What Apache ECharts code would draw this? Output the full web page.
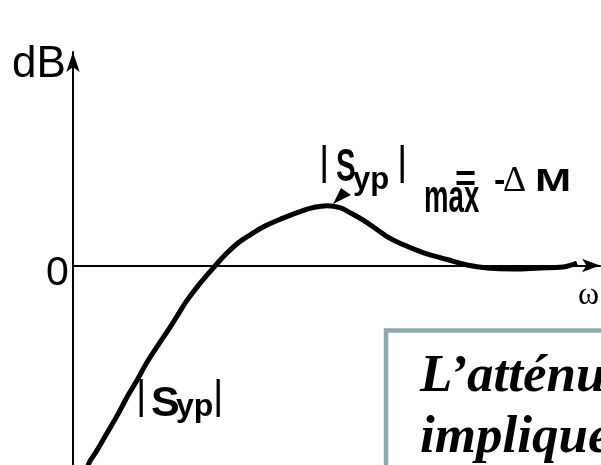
<!DOCTYPE html>
<html>
<head>
<meta charset="utf-8">
<script src="https://cdn.jsdelivr.net/npm/echarts@6/dist/echarts.min.js"></script>
<style>
  html, body { margin: 0; padding: 0; background: #fff; }
  #chart { width: 601px; height: 465px; }
</style>
</head>
<body>
<div id="chart"></div>
<script>
// |S_yp| en dB en fonction de ω
const omega = [2.8, 3.2, 4.6, 6.0, 7.4, 9.0, 10.8, 12.8, 14.8, 17.0, 19.4, 21.4, 22.8, 25.4, 28.4, 30.6, 33.0, 35.4, 38.4, 42.0, 45.4, 48.0, 50.8, 53.4, 55.4, 58.8, 62.8, 66.0, 70.0, 74.8, 78.8, 82.8, 88.0, 93.4, 98.0, 100.8]
const syp = [-20.7, -19.8, -18.7, -17.5, -16.3, -14.9, -13.2, -11.5, -9.7, -8.0, -6.2, -4.6, -3.5, -1.8, -0.05, 1.15, 2.25, 3.05, 3.95, 4.75, 5.4, 5.8, 6.0, 5.8, 5.3, 4.3, 2.9, 2.1, 1.3, 0.6, 0.05, -0.25, -0.35, -0.25, -0.15, 0.25]
const yLabel = 'dB'
const xLabel = 'ω'
const zeroLabel = '0'
const boxLines = ['L’atténuation', 'implique']

const SANS = '"Liberation Sans", Arial, sans-serif'
const SERIF = '"Liberation Serif", "Times New Roman", serif'

function txt(text, x, y, font, extra) {
	return Object.assign({
		type: 'text',
		x, y,
		z: 10,
		style: { text, font, fill: '#000', verticalAlign: 'middle' },
	}, extra || {})
}

function buildOption() {
	const data = omega.map((w, i) => [w, syp[i]])

	const graphic = [
		// libellés des axes
		txt(yLabel, 12, 65, '44px ' + SANS),
		txt(zeroLabel, 46, 274, '41px ' + SANS),
		txt(xLabel, 578, 296, '32px ' + SERIF),
		// |S_yp| max = -ΔM
		txt('|', 319, 164, '40px ' + SANS),
		txt('S', 336, 168, 'bold 46px ' + SANS, { scaleX: 0.64 }),
		txt('yp', 353, 180, 'bold 31px ' + SANS),
		txt('|', 397, 164, '40px ' + SANS),
		txt('max', 424, 199, 'bold 46px ' + SANS, { scaleX: 0.6 }),
		txt('=', 455, 181, 'bold 36px ' + SANS),
		txt('-', 494, 182, 'bold 34px ' + SANS),
		txt('Δ', 503, 182, '36px ' + SERIF),
		txt('M', 535, 182, 'bold 31px ' + SANS, { scaleX: 1.4 }),
		// pointe de flèche vers le maximum
		{
			type: 'polygon',
			z: 10,
			shape: { points: [[333, 204], [341, 188], [351, 195]] },
			style: { fill: '#000' },
		},
		// |S_yp| sur la pente
		txt('|', 136, 398, '40px ' + SANS),
		txt('S', 151, 404, 'bold 43px ' + SANS),
		txt('yp', 176, 407, 'bold 32px ' + SANS),
		txt('|', 213, 398, '40px ' + SANS),
		// encadré
		{
			type: 'rect',
			z: 5,
			shape: { x: 386, y: 330.5, width: 300, height: 200 },
			style: { fill: '#fff', stroke: '#8fa8aa', lineWidth: 4.5 },
		},
		txt(boxLines[0], 420, 377, 'italic bold 53px ' + SERIF),
		txt(boxLines[1], 420, 438, 'italic bold 53px ' + SERIF),
	]

	return {
		animation: false,
		backgroundColor: '#fff',
		grid: { left: 73, right: 1, top: 52, bottom: 0 },
		xAxis: {
			type: 'value',
			min: 0,
			max: 105.4,
			axisLine: {
				onZero: true,
				symbol: ['none', 'arrow'],
				symbolSize: [10, 18],
				lineStyle: { color: '#000', width: 2 },
			},
			axisTick: { show: false },
			axisLabel: { show: false },
			splitLine: { show: false },
		},
		yAxis: {
			type: 'value',
			min: -20,
			max: 21.4,
			axisLine: {
				show: true,
				onZero: false,
				symbol: ['none', 'arrow'],
				symbolSize: [10, 20],
				lineStyle: { color: '#000', width: 2 },
			},
			axisTick: { show: false },
			axisLabel: { show: false },
			splitLine: { show: false },
		},
		series: [
			{
				type: 'line',
				data,
				smooth: 0.4,
				showSymbol: false,
				lineStyle: { color: '#000', width: 5 },
			},
		],
		graphic,
	}
}

const chart = echarts.init(document.getElementById('chart'))
chart.setOption(buildOption())
</script>
</body>
</html>
